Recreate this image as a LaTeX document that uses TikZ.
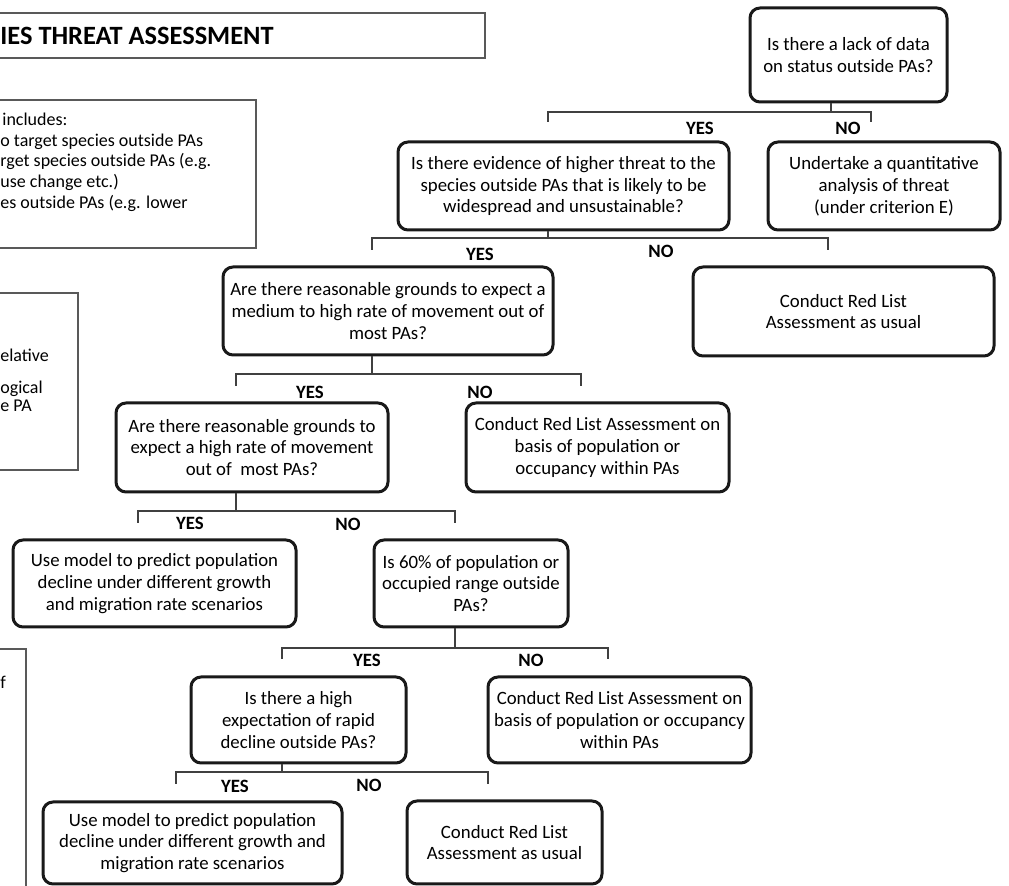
\documentclass[tikz,border=0pt]{standalone}
\usepackage{fontspec}
\setmainfont{Carlito}
\usetikzlibrary{positioning,calc}

\tikzset{
    qbox/.style={draw=black!90, line width=1.5pt, rounded corners=5pt, align=center,
        inner sep=0pt, font=\fontsize{9.4}{10.9}\selectfont},
    boxsize/.style 2 args={minimum width={#1*0.5pt}, minimum height={#2*0.5pt}},
    notebox/.style={draw=black!65, line width=0.7pt},
    notetext/.style={anchor=west, inner sep=0pt, font=\fontsize{9}{10.5}\selectfont,
        text height=1.5ex, text depth=.25ex},
    link/.style={draw=black!75, line width=0.7pt},
    answer/.style={inner sep=0pt, font=\bfseries\fontsize{9.4}{11}\selectfont}
}

\begin{document}
\begin{tikzpicture}[x=0.5pt,y=-0.5pt]
    \useasboundingbox (0,0) rectangle (1009,886);
    \clip (0,0) rectangle (1009,886);

    % === PANNEAUX GAUCHE (coupes) ===
    \draw[notebox] (-20,13) rectangle (485,58);
    \node[anchor=west, inner sep=0pt, font=\bfseries\fontsize{13.2}{15}\selectfont] (title) at (0,36) {IES THREAT ASSESSMENT};

    \draw[notebox] (-20,100) rectangle (256,248);
    \node[notetext] (incl1) at (2,120) {includes:};
    \node[notetext] (incl2) at (0,141) {o target species outside PAs};
    \node[notetext] (incl3) at (0,161) {rget species outside PAs (e.g.};
    \node[notetext] (incl4) at (0,182) {use change etc.)};
    \node[notetext] (incl5) at (0,203) {es outside PAs (e.g. lower};

    \draw[notebox] (-20,293) rectangle (78,470);
    \node[notetext] (rel1) at (0,356) {elative};
    \node[notetext] (rel2) at (0,388) {ogical};
    \node[notetext] (rel3) at (0,406) {e PA};

    \draw[notebox] (-20,649) rectangle (26,900);
    \node[notetext] (cut1) at (0,683) {f};

    % === QUESTIONS ===
    \node[qbox, boxsize={197}{94}] (lack) at (848.5,55) {Is there a lack of data\\on status outside PAs?};
    \node[qbox, boxsize={331}{88}] (threat) at (563.5,186) {Is there evidence of higher threat to the\\species outside PAs that is likely to be\\widespread and unsustainable?};
    \node[qbox, boxsize={232}{88}] (quant) at (884,186) {Undertake a quantitative\\analysis of threat\\(under criterion E)};
    \node[qbox, boxsize={330}{88}] (move) at (388,311) {Are there reasonable grounds to expect a\\medium to high rate of movement out of\\most PAs?};
    \node[qbox, boxsize={301}{89}] (usualA) at (843.5,311.5) {Conduct Red List\\Assessment as usual};
    \node[qbox, boxsize={272}{89}] (high) at (252,447.5) {Are there reasonable grounds to\\expect a high rate of movement\\out of\ \ most PAs?};
    \node[qbox, boxsize={263}{89}] (basisA) at (597.5,447.5) {Conduct Red List Assessment on\\basis of population or\\occupancy within PAs};
    \node[qbox, boxsize={283}{87}] (modelA) at (154.5,583.5) {Use model to predict population\\decline under different growth\\and migration rate scenarios};
    \node[qbox, boxsize={194}{87}] (sixty) at (471,583.5) {Is 60\% of population or\\occupied range outside\\PAs?};
    \node[qbox, boxsize={215}{86}] (rapid) at (298.5,720) {Is there a high\\expectation of rapid\\decline outside PAs?};
    \node[qbox, boxsize={263}{86}] (basisB) at (619.5,720) {Conduct Red List Assessment on\\basis of population or occupancy\\within PAs};
    \node[qbox, boxsize={299}{82}] (modelB) at (192.5,843) {Use model to predict population\\decline under different growth and\\migration rate scenarios};
    \node[qbox, boxsize={195}{83}] (usualB) at (504.5,842.5) {Conduct Red List\\Assessment as usual};

    % Embranchements OUI / NON
    \foreach \p/\sx/\by/\lx/\rx/\ey in {lack/831/112/548/871/122, threat/548/238/372/828/250,
            move/372/374/236/581/386, high/236/511/138/455/523,
            sixty/455/648/282/608/659, rapid/282/772/176/488/784} {
        \coordinate (\p-s) at (\sx,\by);
        \coordinate (\p-l) at (\lx,\ey);
        \coordinate (\p-r) at (\rx,\ey);
        \draw[link] (\p.south -| \p-s) -- (\p-s);
        \draw[link] (\p-l) -- (\p-l |- \p-s) -- (\p-r |- \p-s) -- (\p-r);
    }

    \node[answer] (lack-yes) at (700,128) {YES};
    \node[answer] (lack-no) at (848,128) {NO};
    \node[answer] (threat-yes) at (480,254) {YES};
    \node[answer] (threat-no) at (661,251) {NO};
    \node[answer] (move-yes) at (310,392) {YES};
    \node[answer] (move-no) at (480,392) {NO};
    \node[answer] (high-yes) at (190,523) {YES};
    \node[answer] (high-no) at (348,524) {NO};
    \node[answer] (sixty-yes) at (367,660) {YES};
    \node[answer] (sixty-no) at (531,660) {NO};
    \node[answer] (rapid-yes) at (235,786) {YES};
    \node[answer] (rapid-no) at (369,785) {NO};
\end{tikzpicture}
\end{document}
